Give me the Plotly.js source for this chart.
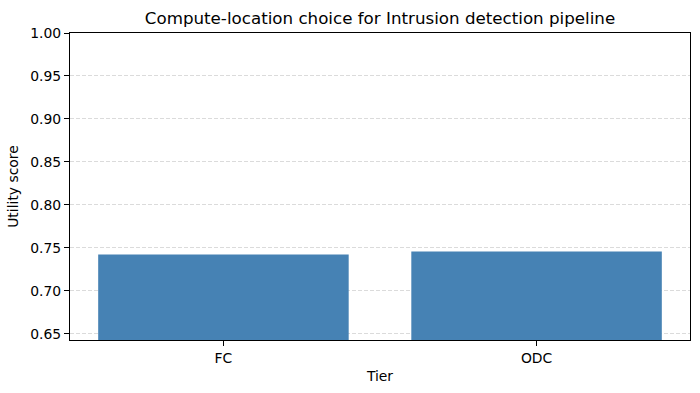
<!DOCTYPE html>
<html>
<head>
<meta charset="utf-8">
<script src="https://cdn.plot.ly/plotly-3.0.1.min.js"></script>
<style>html,body{margin:0;padding:0;background:#fff;}#chart{width:700px;height:393px;}</style>
</head>
<body>
<div id="chart"></div>
<script>
const tiers = ["FC", "ODC"];
const utility = [0.7422, 0.7457];
const yTickVals = [0.65, 0.70, 0.75, 0.80, 0.85, 0.90, 0.95, 1.00];
const yTickText = ["0.65", "0.70", "0.75", "0.80", "0.85", "0.90", "0.95", "1.00"];

const font = "DejaVu Sans, sans-serif";
Plotly.newPlot("chart", [{
  type: "bar",
  x: [0, 1],
  y: utility,
  width: 0.8,
  marker: {color: "#4682b4", line: {width: 0}},
  hoverinfo: "skip"
}], {
  width: 700, height: 393,
  margin: {l: 70, r: 10, t: 33, b: 53},
  paper_bgcolor: "#fff", plot_bgcolor: "#fff",
  font: {family: font, size: 13.9, color: "#000"},
  title: {text: "Compute-location choice for Intrusion detection pipeline", font: {family: font, size: 16.7, color: "#000"}, xref: "paper", x: 0.5, xanchor: "center", y: 0.955, yanchor: "middle"},
  xaxis: {
    range: [-0.49, 1.49],
    tickvals: [0, 1], ticktext: tiers,
    showgrid: false, zeroline: false,
    showline: true, linecolor: "#000", linewidth: 1, mirror: true,
    ticks: "outside", ticklen: 5, tickcolor: "#000",
    tickfont: {family: font, size: 13.9, color: "#000"},
    title: {text: "Tier", font: {family: font, size: 13.9, color: "#000"}, standoff: 6}
  },
  yaxis: {
    range: [0.6426, 1.0],
    tickvals: yTickVals, ticktext: yTickText,
    showgrid: true, gridcolor: "rgba(176,176,176,0.45)", griddash: "4px,2px", gridwidth: 1,
    zeroline: false,
    showline: true, linecolor: "#000", linewidth: 1, mirror: true,
    ticks: "outside", ticklen: 5, tickcolor: "#000",
    tickfont: {family: font, size: 13.9, color: "#000"},
    title: {text: "Utility score", font: {family: font, size: 13.9, color: "#000"}, standoff: 8}
  },
  showlegend: false,
  bargap: 0.2
}, {staticPlot: true, displayModeBar: false});
</script>
</body>
</html>
